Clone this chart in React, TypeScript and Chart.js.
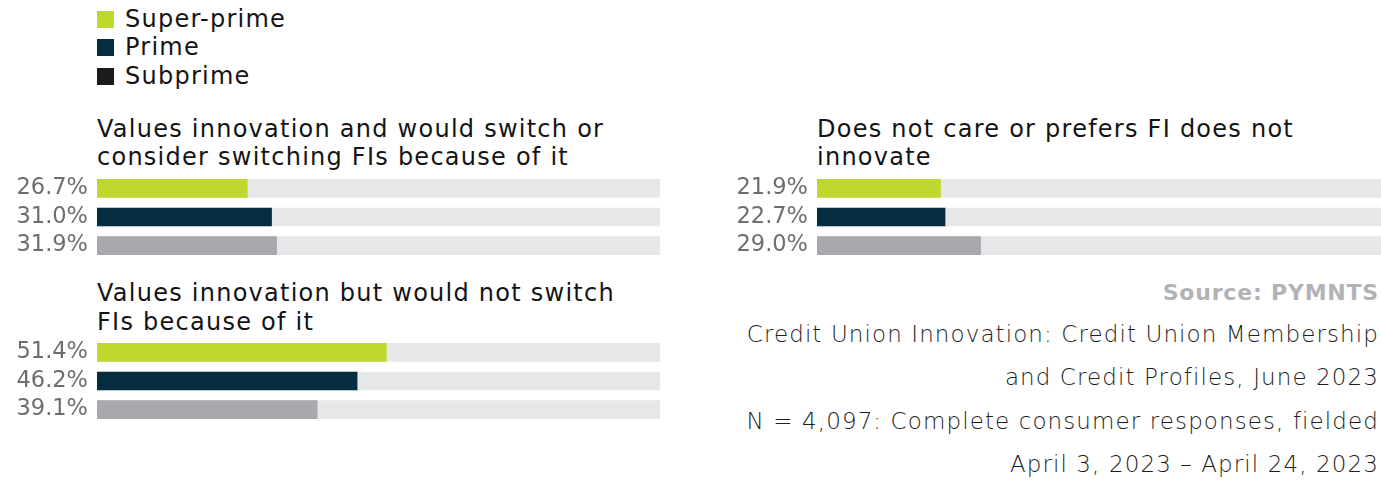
import React, { useEffect, useRef } from "react";
import { Chart, registerables } from "chart.js";

Chart.register(...registerables);

const seriesNames = ["Super-prime", "Prime", "Subprime"];
const barColors = ["#c0d72f", "#052d3f", "#a7a9ac"];
const legendColors = ["#c0d72f", "#052d3f", "#1b1b1b"];
const trackColor = "#e6e7e8";

const panelTitles = [
  ["Values innovation and would switch or", "consider switching FIs because of it"],
  ["Values innovation but would not switch", "FIs because of it"],
  ["Does not care or prefers FI does not", "innovate"],
];
const switchValues = [26.7, 31.0, 31.9];
const noSwitchValues = [51.4, 46.2, 39.1];
const noCareValues = [21.9, 22.7, 29.0];
const axisMax = 100;

const sourceText = "Source: PYMNTS";
const footerLines = [
  "Credit Union Innovation: Credit Union Membership",
  "and Credit Profiles, June 2023",
  "N = 4,097: Complete consumer responses, fielded",
  "April 3, 2023 \u2013 April 24, 2023",
];

const TITLE_FONT = "'DejaVu Sans', sans-serif";
const LABEL_FONT = "'DejaVu Sans', sans-serif";
const TICK_PAD = 9;
const TICK_SIZE = 22.5;
const TICK_LH = 0.1;
const EXTRA = (TICK_SIZE * TICK_LH) / 2 + TICK_PAD;

function BarPanel({ values, left, areaTop, width }: { values: number[]; left: number; areaTop: number; width: number }) {
  const ref = useRef<HTMLCanvasElement>(null);
  const areaH = 85.7;
  const height = Math.round(areaH + 2 * EXTRA);
  const top = areaTop - EXTRA;
  useEffect(() => {
    const labels = values.map((v) => v.toFixed(1) + "%");
    const chart = new Chart(ref.current!, {
      type: "bar",
      data: {
        labels,
        datasets: [
          { data: values, backgroundColor: barColors, barThickness: 18, grouped: false, order: 0 } as any,
          { data: values.map(() => axisMax), backgroundColor: trackColor, barThickness: 18, grouped: false, order: 1 } as any,
        ],
      },
      options: {
        indexAxis: "y",
        animation: false,
        responsive: false,
        maintainAspectRatio: false,
        layout: { padding: 0 },
        plugins: { legend: { display: false }, tooltip: { enabled: false }, title: { display: false } },
        scales: {
          x: { min: 0, max: axisMax, display: false },
          y: {
            grid: { display: false, drawTicks: false },
            border: { display: false },
            ticks: {
              color: "#6d6e71",
              autoSkip: false,
              font: { family: LABEL_FONT, size: TICK_SIZE, lineHeight: TICK_LH },
              padding: TICK_PAD,
            },
            afterFit: (s: any) => { s.width = 97; },
          },
        },
      },
    });
    return () => chart.destroy();
  }, []);
  return <canvas ref={ref} width={width} height={height} style={{ position: "absolute", left, top, width, height }} />;
}

const textBase: React.CSSProperties = {
  position: "absolute",
  fontFamily: TITLE_FONT,
  fontSize: 24,
  letterSpacing: "1.25px",
  color: "#141414",
  whiteSpace: "nowrap",
  lineHeight: "28px",
};

function Line({ text, x, cy, style }: { text: string; x: number; cy: number; style?: React.CSSProperties }) {
  return <div style={{ ...textBase, left: x, top: cy - 14, ...style }}>{text}</div>;
}

export default function App() {
  const legendY = [19, 47, 76];
  return (
    <div style={{ position: "absolute", left: 0, top: 0, width: 1381, height: 481, background: "#fff", overflow: "hidden" }}>
      {seriesNames.map((n, i) => (
        <React.Fragment key={n}>
          <div style={{ position: "absolute", left: 97, top: legendY[i] - 8.5, width: 17, height: 17, background: legendColors[i] }} />
          <Line text={n} x={125} cy={legendY[i]} />
        </React.Fragment>
      ))}
      <Line text={panelTitles[0][0]} x={97} cy={129} />
      <Line text={panelTitles[0][1]} x={97} cy={157} />
      <BarPanel values={switchValues} left={0} areaTop={174.2} width={660} />
      <Line text={panelTitles[1][0]} x={97} cy={293} />
      <Line text={panelTitles[1][1]} x={97} cy={322} />
      <BarPanel values={noSwitchValues} left={0} areaTop={338.3} width={660} />
      <Line text={panelTitles[2][0]} x={817} cy={129} />
      <Line text={panelTitles[2][1]} x={817} cy={157} />
      <BarPanel values={noCareValues} left={720} areaTop={174.2} width={661} />
      <div style={{ ...textBase, right: 2, top: 293 - 14, fontWeight: 700, fontSize: 22, letterSpacing: "0.8px", color: "#b1b3b6", textAlign: "right" }}>{sourceText}</div>
      {footerLines.map((l, i) => (
        <div key={l} style={{ ...textBase, right: 2, top: 334 + i * 43.4 - 14, fontWeight: 200, fontSize: 23, letterSpacing: "1.1px", color: "#1e1e1e", textAlign: "right" }}>{l}</div>
      ))}
    </div>
  );
}
